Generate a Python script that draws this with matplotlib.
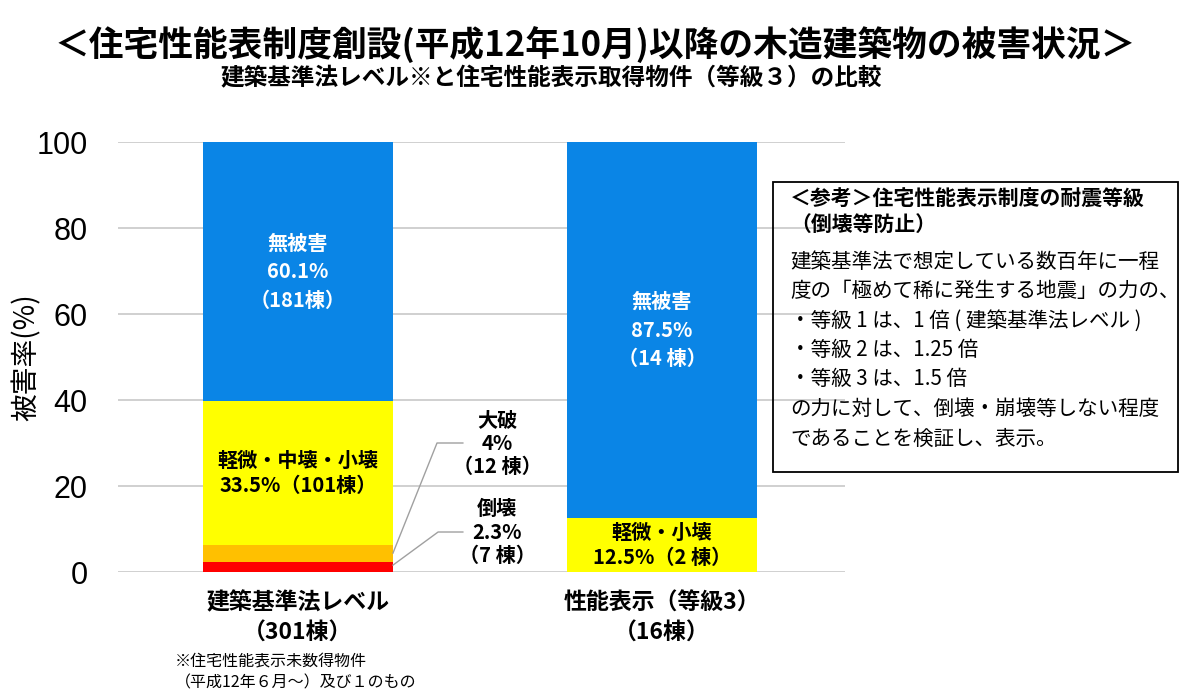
import matplotlib
matplotlib.use("Agg")
import matplotlib.pyplot as plt
from matplotlib.patches import Rectangle
import numpy as np

plt.rcParams['font.family'] = ['Noto Sans CJK JP', 'DejaVu Sans']

# data (percent of buildings)
groups = ["建築基準法レベル\n（301棟）", "性能表示（等級3）\n（16棟）"]
collapse = [2.3, 0.0]      # 倒壊
severe = [4.0, 0.0]        # 大破
minor = [33.5, 12.5]       # 軽微・中壊・小壊
no_damage = [60.1, 87.5]   # 無被害

minor_labels = ["軽微・中壊・小壊\n33.5%（101棟）", "軽微・小壊\n12.5%（2 棟）"]
none_labels = ["無被害\n60.1%\n（181棟）", "無被害\n87.5%\n（14 棟）"]
side_labels = ["大破\n4%\n（12 棟）", "倒壊\n2.3%\n（7 棟）"]

c_blue = "#0A85E6"
c_yellow = "#FFFF00"
c_orange = "#FFC000"
c_red = "#FF0000"

fig = plt.figure(figsize=(12, 7), dpi=100)
ax = fig.add_axes([118/1200, 1-572/700, (845-118)/1200, (572-142)/700])

x = np.arange(len(groups))
w = 0.522
b1 = np.array(collapse)
b2 = b1 + np.array(severe)
b3 = b2 + np.array(minor)

ax.bar(x, collapse, w, color=c_red, zorder=3)
ax.bar(x, severe, w, bottom=b1, color=c_orange, zorder=3)
ax.bar(x, minor, w, bottom=b2, color=c_yellow, zorder=3)
ax.bar(x, no_damage, w, bottom=b3, color=c_blue, zorder=3)

for i in range(len(groups)):
    ax.text(x[i], b2[i] + minor[i]/2, minor_labels[i], ha="center", va="center",
            fontsize=14.5, fontweight="bold", color="black", linespacing=1.25, zorder=4)
    ax.text(x[i], b3[i] + no_damage[i]/2, none_labels[i], ha="center", va="center",
            fontsize=14.5, fontweight="bold", color="white", linespacing=1.45, zorder=4)

# leader lines for the small segments of the first bar
edge = x[0] + w/2
ax.plot([edge, 0.382, 0.453], [4.4, 30, 30], color="#A0A0A0", lw=1, zorder=4, clip_on=False)
ax.plot([edge, 0.385, 0.453], [1.6, 9.3, 9.3], color="#A0A0A0", lw=1, zorder=4, clip_on=False)
ax.text(0.547, 30, side_labels[0], ha="center", va="center", fontsize=14.5,
        fontweight="bold", linespacing=1.15)
ax.text(0.547, 9.3, side_labels[1], ha="center", va="center", fontsize=14.5,
        fontweight="bold", linespacing=1.15)

ax.set_xlim(-0.4945, 1.503)
ax.set_ylim(0, 100)
ax.set_yticks([0, 20, 40, 60, 80, 100])
ax.yaxis.grid(True, color="#C8C8C8", lw=1.2, zorder=0)
ax.set_axisbelow(True)
for s in ax.spines.values():
    s.set_visible(False)
ax.tick_params(axis="y", length=0, pad=22, labelsize=22)
for t in ax.get_yticklabels():
    t.set_family(["Liberation Sans", "DejaVu Sans"])
ax.set_xticks(x)
ax.set_xticklabels(groups, fontsize=16.5, fontweight="bold", linespacing=1.4)
ax.tick_params(axis="x", length=0, pad=14)
ax.set_ylabel("被害率(%)", fontsize=20)
ax.yaxis.set_label_coords(-76/727, 0.5)

fig.text(595/1200, 1-45/700, "＜住宅性能表制度創設(平成12年10月)以降の木造建築物の被害状況＞",
         ha="center", va="center", fontsize=25, fontweight="bold")
fig.text(551/1200, 1-78/700, "建築基準法レベル※と住宅性能表示取得物件（等級３）の比較",
         ha="center", va="center", fontsize=17, fontweight="bold")

fig.text(175/1200, 1-672/700, "※住宅性能表示未数得物件\n（平成12年６月～）及び１のもの",
         ha="left", va="center", fontsize=11.5, linespacing=1.4)

# reference box
fig.add_artist(Rectangle((773/1200, 1-472/700), 405/1200, 290/700,
                         transform=fig.transFigure, fill=False, ec="black", lw=1.3))
fig.text(790/1200, 1-212/700, "＜参考＞住宅性能表示制度の耐震等級\n（倒壊等防止）",
         ha="left", va="center", fontsize=15, fontweight="bold", linespacing=1.25)
box_lines = ["建築基準法で想定している数百年に一程",
             "度の「極めて稀に発生する地震」の力の、",
             "・等級 1 は、1 倍 ( 建築基準法レベル )",
             "・等級 2 は、1.25 倍",
             "・等級 3 は、1.5 倍",
             "の力に対して、倒壊・崩壊等しない程度",
             "であることを検証し、表示。"]
fig.text(790/1200, 1-350/700, "\n".join(box_lines), ha="left", va="center",
         fontsize=14.8, linespacing=1.44)

fig.savefig("out.png", dpi=100)
